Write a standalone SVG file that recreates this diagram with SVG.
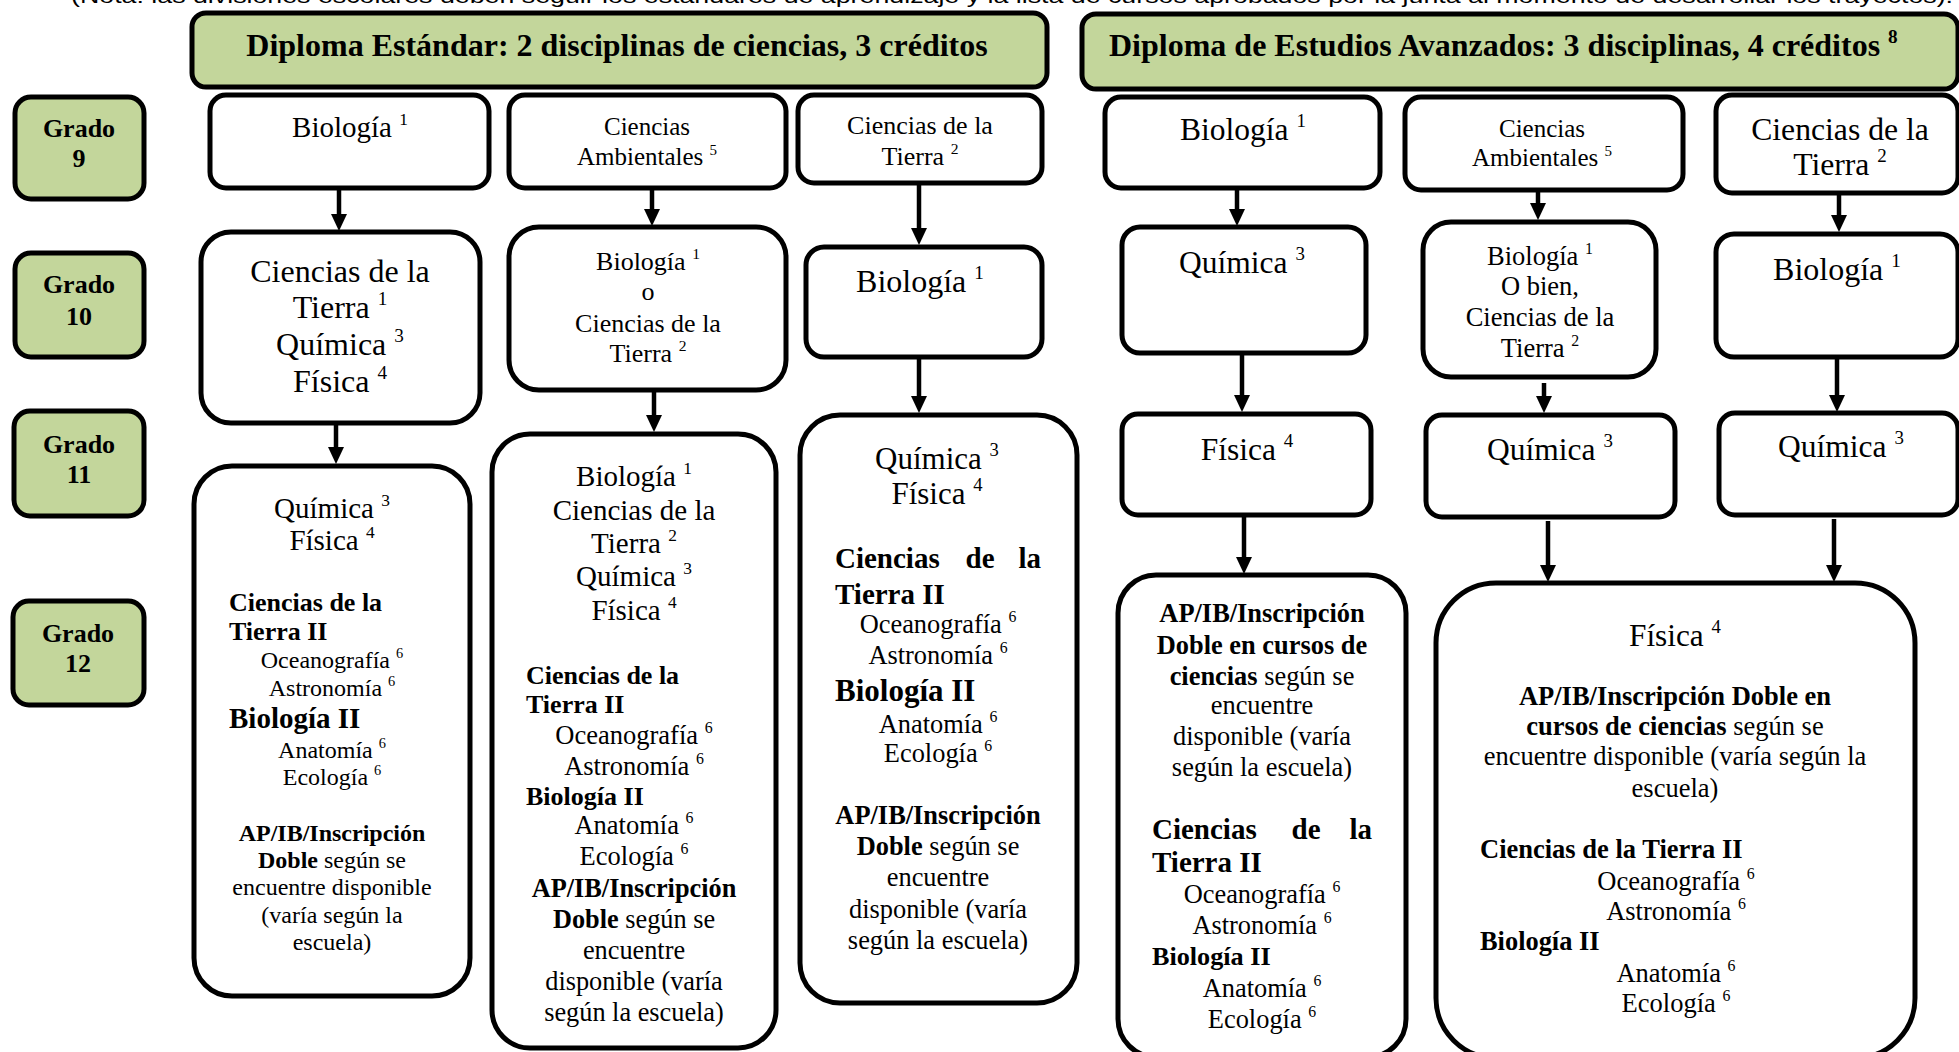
<svg xmlns="http://www.w3.org/2000/svg" width="1959" height="1052" viewBox="0 0 1959 1052">
<defs>
<style>
.box{fill:#fff;stroke:#000;stroke-width:5}
.gb{fill:#c3d69b;stroke:#000;stroke-width:5}
.t{font-family:"Liberation Serif","Times New Roman",serif;fill:#000}
.m{text-anchor:middle}
.e{text-anchor:end}
.b{font-weight:bold}
.s{font-size:60%}
.cn line{stroke:#000;stroke-width:4.5}
</style>
<marker id="ah" viewBox="0 0 17 16" markerWidth="17" markerHeight="16" refX="1" refY="8" orient="auto" markerUnits="userSpaceOnUse"><path d="M0,0 L17,8 L0,16 z" fill="#000"/></marker>
</defs>
<rect width="1959" height="1052" fill="#fff"/>
<text id="note" x="71" y="3" font-family="'Liberation Sans', Arial, sans-serif" font-size="21" textLength="1882" lengthAdjust="spacingAndGlyphs">(Nota: las divisiones escolares deben seguir los estándares de aprendizaje y la lista de cursos aprobados por la junta al momento de desarrollar los trayectos).</text>

<g id="hdr-std"><rect class="gb" x="192" y="13" width="855" height="74" rx="14"/><text class="t b m" x="617" y="56" font-size="32">Diploma Estándar: 2 disciplinas de ciencias, 3 créditos</text></g>
<g id="hdr-adv"><rect class="gb" x="1082" y="14" width="876" height="75" rx="14"/><text class="t b" x="1109" y="56" font-size="32">Diploma de Estudios Avanzados: 3 disciplinas, 4 créditos <tspan class="s" dy="-0.7em">8</tspan></text></g>

<g id="grado9"><rect class="gb" x="15" y="97" width="129" height="102" rx="16"/><text class="t b m" font-size="26" x="79" y="137">Grado</text><text class="t b m" font-size="26" x="79" y="167">9</text></g>
<g id="grado10"><rect class="gb" x="15" y="253" width="129" height="104" rx="16"/><text class="t b m" font-size="26" x="79" y="293">Grado</text><text class="t b m" font-size="26" x="79" y="325">10</text></g>
<g id="grado11"><rect class="gb" x="14" y="411" width="130" height="105" rx="16"/><text class="t b m" font-size="26" x="79" y="453">Grado</text><text class="t b m" font-size="26" x="79" y="483">11</text></g>
<g id="grado12"><rect class="gb" x="13" y="601" width="131" height="104" rx="16"/><text class="t b m" font-size="26" x="78" y="642">Grado</text><text class="t b m" font-size="26" x="78" y="672">12</text></g>

<g class="cn" id="connectors">
<line x1="339" y1="190" x2="339" y2="215" marker-end="url(#ah)"/>
<line x1="336" y1="425" x2="336" y2="448" marker-end="url(#ah)"/>
<line x1="652" y1="190" x2="652" y2="210" marker-end="url(#ah)"/>
<line x1="654" y1="392" x2="654" y2="416" marker-end="url(#ah)"/>
<line x1="919" y1="185" x2="919" y2="229" marker-end="url(#ah)"/>
<line x1="919" y1="359" x2="919" y2="397" marker-end="url(#ah)"/>
<line x1="1237" y1="190" x2="1237" y2="210" marker-end="url(#ah)"/>
<line x1="1242" y1="355" x2="1242" y2="396" marker-end="url(#ah)"/>
<line x1="1244" y1="517" x2="1244" y2="558" marker-end="url(#ah)"/>
<line x1="1538" y1="192" x2="1538" y2="204" marker-end="url(#ah)"/>
<line x1="1544" y1="383" x2="1544" y2="397" marker-end="url(#ah)"/>
<line x1="1548" y1="521" x2="1548" y2="566" marker-end="url(#ah)"/>
<line x1="1834" y1="519" x2="1834" y2="566" marker-end="url(#ah)"/>
<line x1="1839" y1="195" x2="1839" y2="216" marker-end="url(#ah)"/>
<line x1="1837" y1="359" x2="1837" y2="396" marker-end="url(#ah)"/>
</g>

<g id="a1"><rect class="box" x="210" y="95" width="279" height="93" rx="16"/><text class="t m" font-size="29" x="350" y="137">Biología <tspan class="s" dy="-0.7em">1</tspan></text></g>
<g id="a2"><rect class="box" x="201" y="232" width="279" height="191" rx="30"/>
<text class="t m" font-size="32" x="340" y="282">Ciencias de la</text>
<text class="t m" font-size="32" x="340" y="318">Tierra <tspan class="s" dy="-0.7em">1</tspan></text>
<text class="t m" font-size="32" x="340" y="355">Química <tspan class="s" dy="-0.7em">3</tspan></text>
<text class="t m" font-size="32" x="340" y="392">Física <tspan class="s" dy="-0.7em">4</tspan></text></g>
<g id="a3"><rect class="box" x="194" y="466" width="276" height="530" rx="38"/>
<text class="t m" font-size="29" x="332" y="518">Química <tspan class="s" dy="-0.7em">3</tspan></text>
<text class="t m" font-size="29" x="332" y="550">Física <tspan class="s" dy="-0.7em">4</tspan></text>
<text class="t b" font-size="26" x="229" y="611">Ciencias de la</text>
<text class="t b" font-size="26" x="229" y="640">Tierra II</text>
<text class="t m" font-size="24" x="332" y="668">Oceanografía <tspan class="s" dy="-0.7em">6</tspan></text>
<text class="t m" font-size="24" x="332" y="696">Astronomía <tspan class="s" dy="-0.7em">6</tspan></text>
<text class="t b" font-size="29" x="229" y="728">Biología II</text>
<text class="t m" font-size="24" x="332" y="758">Anatomía <tspan class="s" dy="-0.7em">6</tspan></text>
<text class="t m" font-size="24" x="332" y="785">Ecología <tspan class="s" dy="-0.7em">6</tspan></text>
<text class="t m b" font-size="24" x="332" y="841">AP/IB/Inscripción</text>
<text class="t m" font-size="24" x="332" y="868"><tspan class="b">Doble</tspan> según se</text>
<text class="t m" font-size="24" x="332" y="895">encuentre disponible</text>
<text class="t m" font-size="24" x="332" y="923">(varía según la</text>
<text class="t m" font-size="24" x="332" y="950">escuela)</text></g>

<g id="b1"><rect class="box" x="509" y="95" width="277" height="93" rx="16"/>
<text class="t m" font-size="25" x="647" y="135">Ciencias</text>
<text class="t m" font-size="25" x="647" y="165">Ambientales <tspan class="s" dy="-0.7em">5</tspan></text></g>
<g id="b2"><rect class="box" x="509" y="227" width="277" height="163" rx="30"/>
<text class="t m" font-size="26" x="648" y="270">Biología <tspan class="s" dy="-0.7em">1</tspan></text>
<text class="t m" font-size="26" x="648" y="300">o</text>
<text class="t m" font-size="26" x="648" y="332">Ciencias de la</text>
<text class="t m" font-size="26" x="648" y="362">Tierra <tspan class="s" dy="-0.7em">2</tspan></text></g>
<g id="b3"><rect class="box" x="492" y="434" width="284" height="614" rx="38"/>
<text class="t m" font-size="29" x="634" y="486">Biología <tspan class="s" dy="-0.7em">1</tspan></text>
<text class="t m" font-size="29" x="634" y="520">Ciencias de la</text>
<text class="t m" font-size="29" x="634" y="553">Tierra <tspan class="s" dy="-0.7em">2</tspan></text>
<text class="t m" font-size="29" x="634" y="586">Química <tspan class="s" dy="-0.7em">3</tspan></text>
<text class="t m" font-size="29" x="634" y="620">Física <tspan class="s" dy="-0.7em">4</tspan></text>
<text class="t b" font-size="26" x="526" y="684">Ciencias de la</text>
<text class="t b" font-size="26" x="526" y="713">Tierra II</text>
<text class="t m" font-size="26.5" x="634" y="744">Oceanografía <tspan class="s" dy="-0.7em">6</tspan></text>
<text class="t m" font-size="26.5" x="634" y="775">Astronomía <tspan class="s" dy="-0.7em">6</tspan></text>
<text class="t b" font-size="26" x="526" y="805">Biología II</text>
<text class="t m" font-size="26.5" x="634" y="834">Anatomía <tspan class="s" dy="-0.7em">6</tspan></text>
<text class="t m" font-size="26.5" x="634" y="865">Ecología <tspan class="s" dy="-0.7em">6</tspan></text>
<text class="t m b" font-size="26.3" x="634" y="897">AP/IB/Inscripción</text>
<text class="t m" font-size="26.3" x="634" y="928"><tspan class="b">Doble</tspan> según se</text>
<text class="t m" font-size="26.3" x="634" y="959">encuentre</text>
<text class="t m" font-size="26.3" x="634" y="990">disponible (varía</text>
<text class="t m" font-size="26.3" x="634" y="1021">según la escuela)</text></g>

<g id="c1"><rect class="box" x="798" y="95" width="244" height="88" rx="16"/>
<text class="t m" font-size="26" x="920" y="134">Ciencias de la</text>
<text class="t m" font-size="26" x="920" y="165">Tierra <tspan class="s" dy="-0.7em">2</tspan></text></g>
<g id="c2"><rect class="box" x="806" y="247" width="236" height="110" rx="18"/>
<text class="t m" font-size="32" x="920" y="292">Biología <tspan class="s" dy="-0.7em">1</tspan></text></g>
<g id="c3"><rect class="box" x="800" y="415" width="277" height="588" rx="40"/>
<text class="t m" font-size="31" x="937" y="469">Química <tspan class="s" dy="-0.7em">3</tspan></text>
<text class="t m" font-size="31" x="937" y="504">Física <tspan class="s" dy="-0.7em">4</tspan></text>
<text class="t b" font-size="29" x="835" y="568">Ciencias</text><text class="t b m" font-size="29" x="980" y="568">de</text><text class="t b e" font-size="29" x="1041" y="568">la</text>
<text class="t b" font-size="29" x="835" y="604">Tierra II</text>
<text class="t m" font-size="26.4" x="938" y="633">Oceanografía <tspan class="s" dy="-0.7em">6</tspan></text>
<text class="t m" font-size="26.4" x="938" y="664">Astronomía <tspan class="s" dy="-0.7em">6</tspan></text>
<text class="t b" font-size="31" x="835" y="701">Biología II</text>
<text class="t m" font-size="26.4" x="938" y="733">Anatomía <tspan class="s" dy="-0.7em">6</tspan></text>
<text class="t m" font-size="26.4" x="938" y="762">Ecología <tspan class="s" dy="-0.7em">6</tspan></text>
<text class="t m b" font-size="26.4" x="938" y="824">AP/IB/Inscripción</text>
<text class="t m" font-size="26.4" x="938" y="855"><tspan class="b">Doble</tspan> según se</text>
<text class="t m" font-size="26.4" x="938" y="886">encuentre</text>
<text class="t m" font-size="26.4" x="938" y="918">disponible (varía</text>
<text class="t m" font-size="26.4" x="938" y="949">según la escuela)</text></g>

<g id="d1"><rect class="box" x="1105" y="97" width="275" height="91" rx="16"/>
<text class="t m" font-size="31.5" x="1243" y="140">Biología <tspan class="s" dy="-0.7em">1</tspan></text></g>
<g id="d2"><rect class="box" x="1122" y="227" width="244" height="126" rx="18"/>
<text class="t m" font-size="31.5" x="1242" y="273">Química <tspan class="s" dy="-0.7em">3</tspan></text></g>
<g id="d3"><rect class="box" x="1122" y="414" width="249" height="101" rx="16"/>
<text class="t m" font-size="31.5" x="1247" y="460">Física <tspan class="s" dy="-0.7em">4</tspan></text></g>
<g id="d4"><rect class="box" x="1118" y="575" width="288" height="482" rx="38"/>
<text class="t m b" font-size="26.4" x="1262" y="622">AP/IB/Inscripción</text>
<text class="t m b" font-size="26.4" x="1262" y="654">Doble en cursos de</text>
<text class="t m" font-size="26.4" x="1262" y="685"><tspan class="b">ciencias</tspan> según se</text>
<text class="t m" font-size="26.4" x="1262" y="714">encuentre</text>
<text class="t m" font-size="26.4" x="1262" y="745">disponible (varía</text>
<text class="t m" font-size="26.4" x="1262" y="776">según la escuela)</text>
<text class="t b" font-size="29" x="1152" y="839">Ciencias</text><text class="t b m" font-size="29" x="1306" y="839">de</text><text class="t b e" font-size="29" x="1372" y="839">la</text>
<text class="t b" font-size="29" x="1152" y="872">Tierra II</text>
<text class="t m" font-size="26.4" x="1262" y="903">Oceanografía <tspan class="s" dy="-0.7em">6</tspan></text>
<text class="t m" font-size="26.4" x="1262" y="934">Astronomía <tspan class="s" dy="-0.7em">6</tspan></text>
<text class="t b" font-size="26.2" x="1152" y="965">Biología II</text>
<text class="t m" font-size="26.4" x="1262" y="997">Anatomía <tspan class="s" dy="-0.7em">6</tspan></text>
<text class="t m" font-size="26.4" x="1262" y="1028">Ecología <tspan class="s" dy="-0.7em">6</tspan></text></g>

<g id="e1"><rect class="box" x="1405" y="97" width="278" height="93" rx="16"/>
<text class="t m" font-size="25" x="1542" y="137">Ciencias</text>
<text class="t m" font-size="25" x="1542" y="166">Ambientales <tspan class="s" dy="-0.7em">5</tspan></text></g>
<g id="e2"><rect class="box" x="1423" y="222" width="233" height="155" rx="28"/>
<text class="t m" font-size="26.5" x="1540" y="265">Biología <tspan class="s" dy="-0.7em">1</tspan></text>
<text class="t m" font-size="26.5" x="1540" y="295">O bien,</text>
<text class="t m" font-size="26.5" x="1540" y="326">Ciencias de la</text>
<text class="t m" font-size="26.5" x="1540" y="357">Tierra <tspan class="s" dy="-0.7em">2</tspan></text></g>
<g id="e3"><rect class="box" x="1426" y="415" width="249" height="102" rx="16"/>
<text class="t m" font-size="31.5" x="1550" y="460">Química <tspan class="s" dy="-0.7em">3</tspan></text></g>
<g id="e4"><rect class="box" x="1436" y="583" width="479" height="475" rx="60"/>
<text class="t m" font-size="31.3" x="1675" y="646">Física <tspan class="s" dy="-0.7em">4</tspan></text>
<text class="t m b" font-size="26.5" x="1675" y="705">AP/IB/Inscripción Doble en</text>
<text class="t m" font-size="26.5" x="1675" y="735"><tspan class="b">cursos de ciencias</tspan> según se</text>
<text class="t m" font-size="26.5" x="1675" y="765">encuentre disponible (varía según la</text>
<text class="t m" font-size="26.5" x="1675" y="797">escuela)</text>
<text class="t b" font-size="26.5" x="1480" y="858">Ciencias de la Tierra II</text>
<text class="t m" font-size="26.5" x="1676" y="890">Oceanografía <tspan class="s" dy="-0.7em">6</tspan></text>
<text class="t m" font-size="26.5" x="1676" y="920">Astronomía <tspan class="s" dy="-0.7em">6</tspan></text>
<text class="t b" font-size="26.4" x="1480" y="950">Biología II</text>
<text class="t m" font-size="26.5" x="1676" y="982">Anatomía <tspan class="s" dy="-0.7em">6</tspan></text>
<text class="t m" font-size="26.5" x="1676" y="1012">Ecología <tspan class="s" dy="-0.7em">6</tspan></text></g>

<g id="f1"><rect class="box" x="1716" y="95" width="242" height="98" rx="16"/>
<text class="t m" font-size="31.7" x="1840" y="140">Ciencias de la</text>
<text class="t m" font-size="31.7" x="1840" y="175">Tierra <tspan class="s" dy="-0.7em">2</tspan></text></g>
<g id="f2"><rect class="box" x="1716" y="234" width="242" height="123" rx="18"/>
<text class="t m" font-size="32" x="1837" y="280">Biología <tspan class="s" dy="-0.7em">1</tspan></text></g>
<g id="f3"><rect class="box" x="1719" y="413" width="239" height="102" rx="16"/>
<text class="t m" font-size="31.5" x="1841" y="457">Química <tspan class="s" dy="-0.7em">3</tspan></text></g>
</svg>
